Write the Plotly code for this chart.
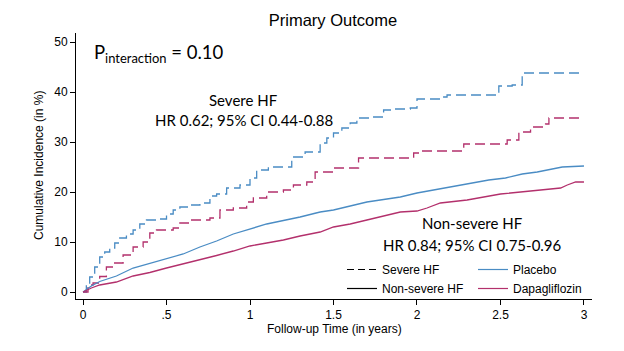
import plotly.graph_objects as go

# ---- data ----
sev_pla_t = [0, 0.02, 0.04, 0.07, 0.10, 0.13, 0.16, 0.19, 0.22, 0.26, 0.30, 0.34, 0.38, 0.44, 0.50,
             0.54, 0.58, 0.64, 0.70, 0.76, 0.80, 0.86, 0.94, 1.00, 1.04, 1.11, 1.25, 1.33, 1.42,
             1.46, 1.50, 1.55, 1.60, 1.64, 1.72, 1.80, 1.86, 1.96, 2.00, 2.16, 2.18, 2.49, 2.57,
             2.63, 3.00]
sev_pla_y = [0, 1.5, 3.0, 5.0, 7.0, 8.0, 8.8, 9.8, 10.8, 11.6, 12.4, 13.6, 14.4, 14.6, 15.6,
             16.4, 17.0, 17.4, 17.8, 19.2, 19.6, 20.8, 21.4, 22.8, 24.4, 25.0, 27.0, 28.0, 29.8,
             30.8, 31.8, 32.8, 33.8, 34.8, 35.0, 36.4, 36.6, 36.8, 38.6, 39.0, 39.4, 41.2, 41.4,
             43.8, 43.8]

sev_dapa_t = [0, 0.03, 0.06, 0.10, 0.14, 0.18, 0.24, 0.30, 0.36, 0.40, 0.44, 0.54, 0.58, 0.64,
              0.76, 0.82, 0.90, 0.98, 1.02, 1.10, 1.20, 1.26, 1.34, 1.39, 1.50, 1.65, 1.98, 2.02,
              2.28, 2.54, 2.61, 2.68, 2.77, 2.79, 3.00]
sev_dapa_y = [0, 1.4, 1.8, 3.1, 5.0, 5.8, 7.4, 9.0, 10.0, 11.8, 12.4, 12.8, 13.8, 14.4,
              14.8, 16.4, 16.8, 18.0, 18.8, 20.0, 20.4, 21.4, 22.0, 24.0, 24.8, 26.8, 27.8, 28.2,
              29.6, 30.4, 32.0, 33.0, 33.6, 34.8, 34.8]

non_pla_t = [0, 0.05, 0.10, 0.20, 0.30, 0.40, 0.50, 0.60, 0.70, 0.80, 0.90, 1.00, 1.10, 1.20,
             1.30, 1.42, 1.50, 1.60, 1.70, 1.80, 1.90, 2.00, 2.10, 2.20, 2.30, 2.43, 2.53, 2.63,
             2.72, 2.78, 2.87, 3.00]
non_pla_y = [0, 1.2, 2.1, 3.2, 4.8, 5.7, 6.6, 7.6, 9.0, 10.2, 11.6, 12.6, 13.6, 14.3,
             15.0, 16.0, 16.4, 17.2, 18.0, 18.5, 19.0, 19.8, 20.4, 21.0, 21.6, 22.4, 22.8, 23.6,
             24.0, 24.4, 25.0, 25.2]

non_dapa_t = [0, 0.05, 0.10, 0.20, 0.30, 0.40, 0.50, 0.60, 0.70, 0.80, 0.90, 1.00, 1.10, 1.20,
              1.30, 1.42, 1.50, 1.60, 1.70, 1.80, 1.90, 2.00, 2.06, 2.14, 2.30, 2.50, 2.70, 2.86,
              2.90, 2.95, 3.00]
non_dapa_y = [0, 0.8, 1.4, 2.0, 3.2, 3.9, 4.8, 5.6, 6.5, 7.3, 8.2, 9.2, 9.8, 10.4,
              11.2, 12.0, 13.0, 13.6, 14.4, 15.2, 16.0, 16.2, 16.8, 17.8, 18.4, 19.6, 20.2, 20.8,
              21.4, 22.0, 22.0]

x_tickvals = [0, 0.5, 1, 1.5, 2, 2.5, 3]
x_ticktext = ["0", ".5", "1", "1.5", "2", "2.5", "3"]
y_tickvals = [0, 10, 20, 30, 40, 50]

BLUE = "#4a8cc4"
MAG = "#b3306c"
DASH = "10px,5px"
LW = 1.3

fig = go.Figure()
fig.add_trace(go.Scatter(x=sev_pla_t, y=sev_pla_y, mode="lines", line=dict(color=BLUE, width=LW, dash=DASH, shape="hv"), showlegend=False))
fig.add_trace(go.Scatter(x=sev_dapa_t, y=sev_dapa_y, mode="lines", line=dict(color=MAG, width=LW, dash=DASH, shape="hv"), showlegend=False))
fig.add_trace(go.Scatter(x=non_pla_t, y=non_pla_y, mode="lines", line=dict(color=BLUE, width=LW), showlegend=False))
fig.add_trace(go.Scatter(x=non_dapa_t, y=non_dapa_y, mode="lines", line=dict(color=MAG, width=LW), showlegend=False))

# legend entries
fig.add_trace(go.Scatter(x=[None], y=[None], mode="lines", name="Severe HF", line=dict(color="black", width=1.2, dash="7px,4px"), legend="legend"))
fig.add_trace(go.Scatter(x=[None], y=[None], mode="lines", name="Non-severe HF", line=dict(color="black", width=1.2), legend="legend"))
fig.add_trace(go.Scatter(x=[None], y=[None], mode="lines", name="Placebo", line=dict(color=BLUE, width=1.2), legend="legend2"))
fig.add_trace(go.Scatter(x=[None], y=[None], mode="lines", name="Dapagliflozin", line=dict(color=MAG, width=1.2), legend="legend2"))

ann_font = dict(family="Lato, Carlito, sans-serif", size=15, color="black")
axis_font = dict(family="Liberation Sans, Arial", size=12, color="black")
annotations = [
    dict(x=0.055, y=47.8, xref="x", yref="y", xanchor="left", yanchor="middle", showarrow=False,
         text="P<sub>interaction</sub> = 0.10", font=dict(family="Lato, sans-serif", size=18.5, color="black")),
    dict(x=0.958, y=38.4, xref="x", yref="y", xanchor="center", yanchor="middle", showarrow=False, text="Severe HF", font=ann_font),
    dict(x=0.964, y=34.4, xref="x", yref="y", xanchor="center", yanchor="middle", showarrow=False, text="HR 0.62; 95% CI 0.44-0.88", font=ann_font),
    dict(x=2.33, y=13.8, xref="x", yref="y", xanchor="center", yanchor="middle", showarrow=False, text="Non-severe HF", font=ann_font),
    dict(x=2.33, y=9.4, xref="x", yref="y", xanchor="center", yanchor="middle", showarrow=False, text="HR 0.84; 95% CI 0.75-0.96", font=ann_font),
    dict(x=(39 - 76) / 516, y=0.5, xref="paper", yref="paper", xanchor="center", yanchor="middle", textangle=-90, showarrow=False,
         text="Cumulative Incidence (in %)", font=axis_font),
    dict(x=0.5, y=(299 - 329) / 266, xref="paper", yref="paper", xanchor="center", yanchor="middle", showarrow=False,
         text="Follow-up Time (in years)", font=axis_font),
]

legend_common = dict(bgcolor="rgba(0,0,0,0)", borderwidth=0, xanchor="left", yanchor="top",
                     font=axis_font, tracegroupgap=0, itemwidth=30)

fig.update_layout(
    width=624, height=351,
    margin=dict(l=76, r=32, t=33, b=52),
    paper_bgcolor="white", plot_bgcolor="white",
    title=dict(text="Primary Outcome", x=0.498, xref="paper", xanchor="center", y=1 - 20 / 351, yanchor="middle",
               font=dict(family="Liberation Sans, Arial", size=16.5, color="black")),
    xaxis=dict(range=[-0.042, 3.048], tickvals=x_tickvals, ticktext=x_ticktext, showgrid=False, zeroline=False,
               showline=True, linecolor="black", linewidth=1, ticks="outside", ticklen=5, tickcolor="black",
               tickfont=axis_font),
    yaxis=dict(range=[-1.4, 51.8], tickvals=y_tickvals, showgrid=False, zeroline=False,
               showline=True, linecolor="black", linewidth=1, ticks="outside", ticklen=5, tickcolor="black",
               tickfont=axis_font),
    annotations=annotations,
    legend=dict(x=(342 - 76) / 516, y=(299 - 255) / 266, **legend_common),
    legend2=dict(x=(473 - 76) / 516, y=(299 - 255) / 266, **legend_common),
)

fig.write_html("out.html")
